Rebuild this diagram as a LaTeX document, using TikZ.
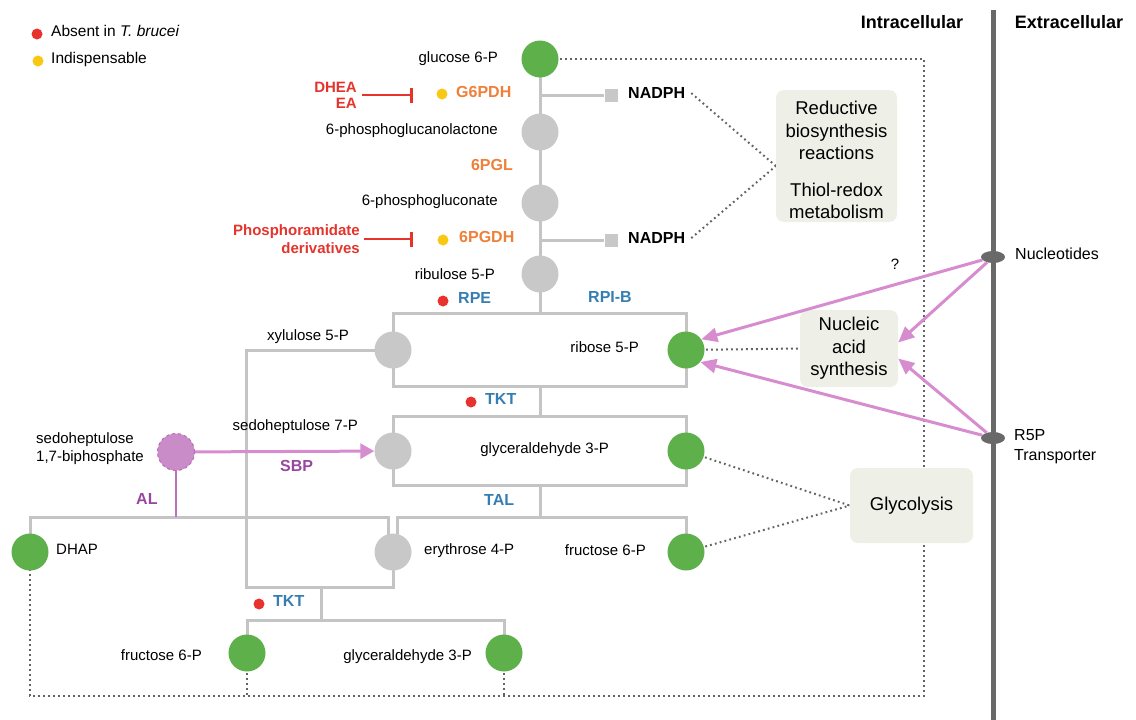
\documentclass[tikz,border=0pt]{standalone}
\usepackage{fontspec}
\setmainfont{Liberation Sans}
\usetikzlibrary{arrows.meta,shapes.geometric,backgrounds}

\definecolor{metgreen}{RGB}{94,176,74}
\definecolor{metgray}{RGB}{200,200,200}
\definecolor{linegray}{RGB}{196,196,196}
\definecolor{dotgray}{RGB}{100,100,100}
\definecolor{enzorange}{RGB}{238,128,58}
\definecolor{enzblue}{RGB}{54,126,178}
\definecolor{inhred}{RGB}{228,52,44}
\definecolor{dotred}{RGB}{232,50,45}
\definecolor{dotyellow}{RGB}{248,200,20}
\definecolor{purptext}{RGB}{150,72,158}
\definecolor{purpfill}{RGB}{202,140,200}
\definecolor{purpdash}{RGB}{180,110,175}
\definecolor{purpline}{RGB}{190,115,185}
\definecolor{pinkarrow}{RGB}{214,140,206}
\definecolor{boxfill}{RGB}{238,240,231}
\definecolor{membrane}{RGB}{105,105,105}

\newcommand\myfs[2]{\fontsize{#1}{#2}\selectfont}

\tikzset{
  met/.style={circle, minimum size=37pt, inner sep=0pt, draw=none},
  metg/.style={met, fill=metgreen},
  metn/.style={met, fill=metgray},
  lbl/.style={inner sep=0pt, font=\myfs{15}{18}},
  enz/.style={inner sep=0pt, font=\myfs{16}{19}\bfseries},
  marker/.style={circle, inner sep=0pt, minimum size=11pt},
  pw/.style={draw=linegray, line width=3pt},
  dotline/.style={draw=dotgray, line width=2pt, dash pattern=on 1.8pt off 3.2pt},
  infobox/.style={fill=boxfill, rounded corners=8pt, align=center, inner sep=0pt, font=\myfs{18.5}{22.5}},
  pinkarr/.style={draw=pinkarrow, line width=3pt, -{Triangle[length=16pt,width=14pt]}},
  inhib/.style={draw=inhred, line width=2pt, -{Bar[width=15pt,line width=3pt]}},
  porter/.style={ellipse, fill=membrane, minimum width=24pt, minimum height=12pt, inner sep=0pt},
}

\begin{document}
\begin{tikzpicture}[x=1pt,y=-1pt]
\useasboundingbox (0,0) rectangle (1136,720);

% legend
\node[marker, fill=dotred] (legA) at (37,34) {};
\node[lbl, anchor=mid west, font=\myfs{15.5}{18}] (legAt) at (51,34) {Absent in \textit{T. brucei}};
\node[marker, fill=dotyellow] (legB) at (38,61) {};
\node[lbl, anchor=mid west, font=\myfs{15.5}{18}] (legBt) at (51,61) {Indispensable};

% compartment headers
\node[inner sep=0pt, font=\myfs{18}{22}\bfseries] (intra) at (912,22) {Intracellular};
\node[inner sep=0pt, font=\myfs{18}{22}\bfseries] (extra) at (1069,22) {Extracellular};

% metabolites
\node[metg] (g6p)  at (540,59)  {};
\node[metn] (pgl)  at (540,132) {};
\node[metn] (pg)   at (540,203) {};
\node[metn] (ru5p) at (540,274) {};
\node[metn] (xyl)  at (393,350) {};
\node[metg] (rib)  at (686,350) {};
\node[metn] (sed7) at (393,451) {};
\node[metg] (gap3) at (686,451) {};
\node[metn] (ery)  at (393,552) {};
\node[metg] (fru1) at (686,552) {};
\node[metg] (dhap) at (30,552)  {};
\node[metg] (fru2) at (247,653) {};
\node[metg] (gap2) at (504,653) {};
\node[met, fill=purpfill, draw=purpdash, dashed, line width=1pt] (sbp) at (176,452) {};

% metabolite labels
\node[lbl, anchor=mid east] (g6pl)  at (498,60)  {glucose 6-P};
\node[lbl, anchor=mid east] (pgll)  at (498,132) {6-phosphoglucanolactone};
\node[lbl, anchor=mid east] (pgl2)  at (498,203) {6-phosphogluconate};
\node[lbl, anchor=mid east] (ru5pl) at (495,277) {ribulose 5-P};
\node[lbl, anchor=mid east] (xyll)  at (349,338) {xylulose 5-P};
\node[lbl, anchor=mid east] (ribl)  at (639,350) {ribose 5-P};
\node[lbl, anchor=mid east] (sed7l) at (358,428) {sedoheptulose 7-P};
\node[lbl, anchor=mid east] (gap3l) at (609,451) {glyceraldehyde 3-P};
\node[lbl, anchor=west, align=left] (sbpl) at (36,449) {sedoheptulose\\1,7-biphosphate};
\node[lbl, anchor=mid west] (dhapl) at (56,552) {DHAP};
\node[lbl, anchor=mid west] (eryl)  at (424,552) {erythrose 4-P};
\node[lbl, anchor=mid east] (fru1l) at (646,553) {fructose 6-P};
\node[lbl, anchor=mid east] (fru2l) at (202,658) {fructose 6-P};
\node[lbl, anchor=mid east] (gap2l) at (472,658) {glyceraldehyde 3-P};

% NADPH outputs
\node[fill=metgray, minimum size=13pt, inner sep=0pt] (sq1) at (611,95) {};
\node[fill=metgray, minimum size=13pt, inner sep=0pt] (sq2) at (611,240) {};
\node[enz, anchor=mid west] (nadph1) at (628,96) {NADPH};
\node[enz, anchor=mid west] (nadph2) at (628,241) {NADPH};

% enzymes
\node[marker, fill=dotyellow] (d1) at (442,94) {};
\node[enz, text=enzorange, anchor=mid west] (g6pdh) at (456,95) {G6PDH};
\node[enz, text=enzorange, anchor=mid east] (pgle) at (513,168) {6PGL};
\node[marker, fill=dotyellow] (d2) at (443,240) {};
\node[enz, text=enzorange, anchor=mid west] (pgdh) at (459,240) {6PGDH};
\node[marker, fill=dotred] (d3) at (443,301) {};
\node[enz, text=enzblue, anchor=mid west] (rpe) at (458,301) {RPE};
\node[enz, text=enzblue, anchor=mid west] (rpib) at (588,300) {RPI-B};
\node[marker, fill=dotred] (d4) at (471,402) {};
\node[enz, text=enzblue, anchor=mid west] (tkt1) at (485,402) {TKT};
\node[enz, text=enzblue, anchor=mid west] (tal) at (484,503) {TAL};
\node[marker, fill=dotred] (d5) at (259,604) {};
\node[enz, text=enzblue, anchor=mid west] (tkt2) at (273,604) {TKT};
\node[enz, text=purptext, anchor=mid west] (al) at (136,502) {AL};
\node[enz, text=purptext, anchor=mid west] (sbpe) at (280,469) {SBP};

% inhibitors
\node[inner sep=0pt, text=inhred, align=right, anchor=east, font=\myfs{15}{16}\bfseries] (dhea) at (357,95) {DHEA\\EA};
\node[inner sep=0pt, text=inhred, align=right, anchor=east, font=\myfs{15}{18}\bfseries] (phos) at (360,239) {Phosphoramidate\\derivatives};
\coordinate (bar1) at (413,95);
\coordinate (bar2) at (413,239);
\draw[inhib] ([xshift=5pt]dhea.east) -- (bar1);
\draw[inhib] ([xshift=4pt]phos.east) -- (bar2);

% information boxes
\node[infobox, minimum width=121pt, minimum height=132pt] (rdx) at (836.5,156) {};
\node[inner sep=0pt, align=center, font=\myfs{18.5}{22.5}] (rdxt) at (836.5,160)
  {Reductive\\biosynthesis\\reactions\\[14pt]Thiol-redox\\metabolism};
\node[infobox, minimum width=98pt, minimum height=77pt] (na) at (849,348.5)
  {Nucleic\\acid\\synthesis};
\node[infobox, minimum width=123pt, minimum height=75pt] (gly) at (911.5,505.5)
  {Glycolysis};

% junctions and corners of the pathway
\coordinate (j1) at (540,95);
\coordinate (j2) at (540,240);
\coordinate (b1t) at (540,313);
\coordinate (b1tl) at (393,313);
\coordinate (b1tr) at (686,313);
\coordinate (b1bl) at (393,386);
\coordinate (b1br) at (686,386);
\coordinate (b1b) at (540,386);
\coordinate (b2t) at (540,416);
\coordinate (b2tl) at (393,416);
\coordinate (b2tr) at (686,416);
\coordinate (b2bl) at (393,485);
\coordinate (b2br) at (686,485);
\coordinate (b2b) at (540,485);
\coordinate (b3t) at (540,517);
\coordinate (b3l) at (397,517);
\coordinate (b3r) at (686,517);
\coordinate (alL) at (30,517);
\coordinate (alR) at (388,517);
\coordinate (jAL) at (176,517);
\coordinate (xL) at (246,350);
\coordinate (xB) at (246,587);
\coordinate (eB) at (393,587);
\coordinate (tk2a) at (321,587);
\coordinate (tk2b) at (321,620);
\coordinate (dTR) at (924,59);
\coordinate (dBR) at (924,696);
\coordinate (dBL) at (30,696);

\begin{pgfonlayer}{background}
  % oxidative branch
  \draw[pw] (g6p.center) -- (pgl.center) -- (pg.center) -- (ru5p.center) -- (b1t);
  \draw[pw] (j1) -- (sq1);
  \draw[pw] (j2) -- (sq2);
  % RPE / RPI-B
  \draw[pw] (xyl.center) -- (b1tl) -- (b1tr) -- (rib.center);
  \draw[pw] (xyl.center) -- (b1bl) -- (b1br) -- (rib.center);
  % first transketolase step
  \draw[pw] (b1b) -- (b2t);
  \draw[pw] (sed7.center) -- (b2tl) -- (b2tr) -- (gap3.center);
  \draw[pw] (sed7.center) -- (b2bl) -- (b2br) -- (gap3.center);
  % transaldolase
  \draw[pw] (b2b) -- (b3t);
  \draw[pw] ([xshift=4pt]ery.center) -- (b3l) -- (b3r) -- (fru1.center);
  % aldolase
  \draw[pw] (dhap.center) -- (alL) -- (alR) -- ([xshift=-5pt]ery.center);
  \draw[draw=purpline, line width=2pt] (sbp.center) -- (jAL);
  % second transketolase step
  \draw[pw] (xyl.center) -- (xL) -- (xB) -- (eB) -- (ery.center);
  \draw[pw] (tk2a) -- (tk2b);
  \draw[pw] (fru2.center) -- (fru2.center |- tk2b) -- (gap2.center |- tk2b) -- (gap2.center);
  % recycling to glucose 6-P
  \draw[dotline] (g6p.center) -- (dTR) -- (dBR) -- (dBL) -- (dhap.center);
  \draw[dotline] (fru2.center) -- (fru2.center |- dBL);
  \draw[dotline] (gap2.center) -- (gap2.center |- dBL);
  % links to downstream processes
  \draw[dotline] (nadph1.east) ++(6,0) -- ([yshift=-10pt]rdx.west);
  \draw[dotline] (nadph2.east) ++(6,0) -- ([yshift=-10pt]rdx.west);
  \draw[dotline] (rib.center) -- (na.west);
  \draw[dotline] (gap3.center) -- (gly.west);
  \draw[dotline] (fru1.center) -- (gly.west);
\end{pgfonlayer}

% SBP shunt
\draw[draw=pinkarrow, line width=3pt, -{Triangle[length=14pt,width=15pt]}] (sbp) -- (sed7);

% plasma membrane and transporters
\coordinate (memtop) at (993,10);
\coordinate (membot) at (993,720);
\draw[draw=membrane, line width=5pt] (memtop) -- (membot);
\node[porter] (nuc) at (993,257) {};
\node[porter] (r5p) at (993,438) {};
\node[lbl, anchor=mid west, font=\myfs{16}{19}] (nucl) at (1015,257) {Nucleotides};
\node[lbl, anchor=west, align=left, font=\myfs{16}{20}] (r5pl) at (1014,447) {R5P\\Transporter};
\node[lbl, font=\myfs{15}{18}] (qm) at (895,264) {?};

% salvage and uptake
\draw[pinkarr] (nuc) -- (rib.35);
\draw[pinkarr] (nuc) -- ([yshift=6pt]na.east);
\draw[pinkarr] (r5p) -- (rib.-40);
\draw[pinkarr] (r5p) -- ([yshift=-10pt]na.east);

\end{tikzpicture}
\end{document}
